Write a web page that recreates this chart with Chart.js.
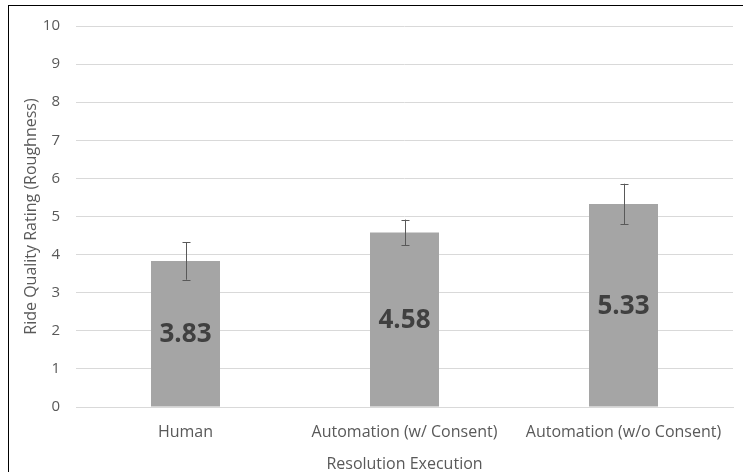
<!DOCTYPE html>
<html>
<head>
<meta charset="utf-8">
<script src="https://cdn.jsdelivr.net/npm/chart.js@4"></script>
<style>
  html, body { margin: 0; padding: 0; background: #fff; }
  #wrap { position: relative; width: 743px; height: 472px; overflow: hidden; }
  #frame { position: absolute; left: 8px; top: 5px; width: 800px; height: 600px; border: 1.5px solid #000; box-sizing: border-box; pointer-events: none; }
  canvas { position: absolute; left: 0; top: 0; }
</style>
</head>
<body>
<div id="wrap">
  <canvas id="c" width="743" height="472"></canvas>
  <div id="frame"></div>
</div>
<script>
const categories = ["Human", "Automation (w/ Consent)", "Automation (w/o Consent)"];
const ratings = [3.83, 4.58, 5.33];
const errorUpper = [0.49, 0.34, 0.53];
const errorLower = [0.49, 0.34, 0.53];
const yTicks = [0, 1, 2, 3, 4, 5, 6, 7, 8, 9, 10];

const FONT = "'Open Sans', sans-serif";

const overlay = {
  id: 'overlay',
  afterDatasetsDraw(chart) {
    const ctx = chart.ctx;
    const y = chart.scales.y;
    const meta = chart.getDatasetMeta(0);
    ctx.save();
    meta.data.forEach((bar, i) => {
      const v = ratings[i];
      const x = bar.x;
      // data label at center of bar
      const yMid = (y.getPixelForValue(v) + y.getPixelForValue(0)) / 2;
      ctx.fillStyle = '#404040';
      ctx.font = "bold 26px " + FONT;
      ctx.textAlign = 'center';
      ctx.textBaseline = 'middle';
      ctx.fillText(v.toFixed(2), x, yMid + 1);
      // error bar
      const yTop = y.getPixelForValue(v + errorUpper[i]);
      const yBot = y.getPixelForValue(v - errorLower[i]);
      ctx.strokeStyle = '#595959';
      ctx.lineWidth = 1;
      ctx.beginPath();
      ctx.moveTo(Math.round(x) + 0.5, yTop);
      ctx.lineTo(Math.round(x) + 0.5, yBot);
      ctx.moveTo(Math.round(x) - 3.5, Math.round(yTop) + 0.5);
      ctx.lineTo(Math.round(x) + 4.5, Math.round(yTop) + 0.5);
      ctx.moveTo(Math.round(x) - 3.5, Math.round(yBot) + 0.5);
      ctx.lineTo(Math.round(x) + 4.5, Math.round(yBot) + 0.5);
      ctx.stroke();
    });
    ctx.restore();
  }
};

new Chart(document.getElementById('c'), {
  type: 'bar',
  data: {
    labels: categories,
    datasets: [{
      data: ratings,
      backgroundColor: '#a5a5a5',
      borderWidth: 0,
      categoryPercentage: 1,
      barPercentage: 0.315
    }]
  },
  options: {
    responsive: false,
    animation: false,
    devicePixelRatio: 1,
    layout: { padding: { left: 10, right: 10, top: 26, bottom: -6 } },
    plugins: { legend: { display: false }, tooltip: { enabled: false } },
    scales: {
      x: {
        grid: { display: false },
        border: { color: '#d9d9d9', width: 1 },
        ticks: { color: '#595959', font: { family: FONT, size: 16 }, padding: 8, maxRotation: 0, autoSkip: false },
        title: { display: true, text: 'Resolution Execution', color: '#595959', font: { family: FONT, size: 16 }, padding: { top: 12, bottom: 4 } },
        afterFit(s) { s.height = 71; }
      },
      y: {
        min: 0, max: 10,
        afterBuildTicks(s) { s.ticks = yTicks.map(v => ({ value: v })); },
        grid: { color: '#d9d9d9', lineWidth: 1, drawTicks: false },
        border: { display: false },
        ticks: { color: '#595959', font: { family: FONT, size: 15 }, padding: 16 },
        title: { display: true, text: 'Ride Quality Rating (Roughness)', color: '#595959', font: { family: FONT, size: 16 }, padding: { top: 12, bottom: 0 } },
        afterFit(s) { s.width = 66; }
      }
    }
  },
  plugins: [overlay]
});
</script>
</body>
</html>
